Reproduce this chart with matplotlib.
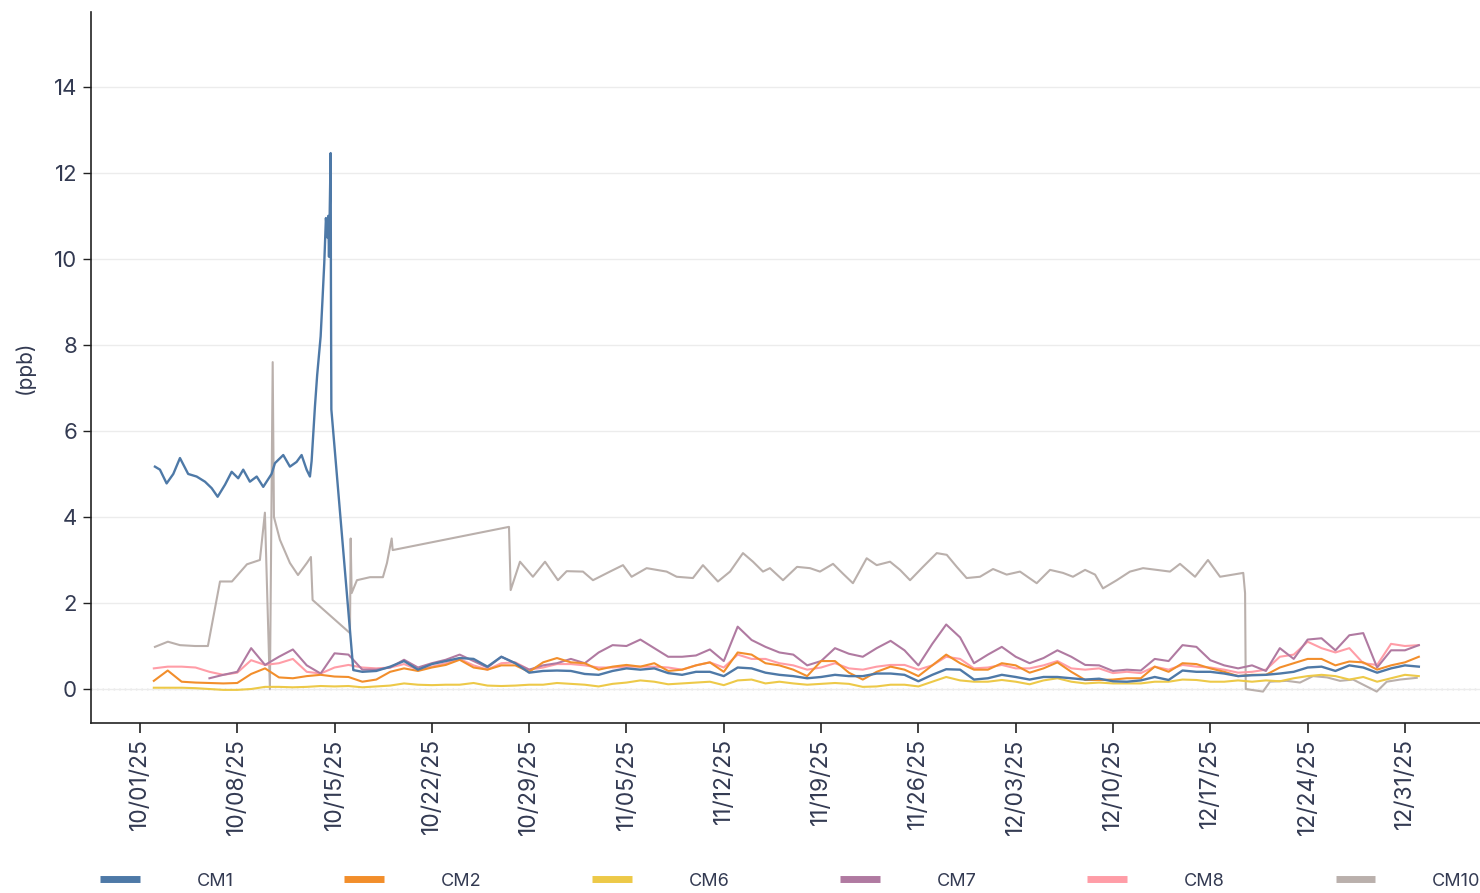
import numpy as np
import pandas as pd
import matplotlib
matplotlib.use("Agg")
import matplotlib.pyplot as plt
import matplotlib.dates as mdates
from matplotlib.lines import Line2D

plt.rcParams["font.family"] = ["Inter", "DejaVu Sans"]

# --- data (ppb), days counted from 2025-10-01 ---
start = pd.Timestamp("2025-10-01")
daily_day = list(range(1, 93))

cm1_early_day = [1.08, 1.44, 1.92, 2.40, 2.88, 3.47, 4.08, 4.68, 5.16, 5.59,
                 6.12, 6.60, 7.07, 7.43, 7.91, 8.40, 8.87, 9.47, 9.71, 10.31,
                 10.79, 11.27, 11.63, 11.99, 12.23, 12.35, 12.59, 12.75, 13.00, 13.14,
                 13.26, 13.38, 13.48, 13.55, 13.60, 13.72, 13.74, 13.77, 15.35]
cm1_early = [5.17, 5.10, 4.78, 5.00, 5.37, 5.00, 4.94, 4.82, 4.67, 4.47,
             4.75, 5.05, 4.90, 5.10, 4.82, 4.94, 4.70, 5.00, 5.25, 5.44,
             5.17, 5.28, 5.44, 5.10, 4.94, 5.30, 6.57, 7.30, 8.20, 9.10,
             9.90, 10.95, 10.50, 11.00, 10.05, 12.46, 9.40, 6.50, 0.44]
cm1_late = [0.40, 0.42, 0.52, 0.65, 0.45, 0.58, 0.65, 0.72, 0.70, 0.52, 0.75, 0.60, 0.38, 0.42, 0.43,
            0.42, 0.35, 0.33, 0.42, 0.48, 0.45, 0.48, 0.37, 0.33, 0.40, 0.40, 0.30, 0.50, 0.48, 0.38,
            0.33, 0.30, 0.25, 0.28, 0.33, 0.30, 0.30, 0.36, 0.36, 0.33, 0.18, 0.33, 0.46, 0.45, 0.22,
            0.25, 0.33, 0.28, 0.22, 0.28, 0.28, 0.25, 0.22, 0.24, 0.18, 0.17, 0.20, 0.28, 0.21, 0.43,
            0.40, 0.40, 0.36, 0.30, 0.32, 0.33, 0.36, 0.40, 0.50, 0.52, 0.42, 0.55, 0.50, 0.38, 0.48,
            0.55, 0.52]

cm2 = [0.19, 0.43, 0.17, 0.15, 0.14, 0.13, 0.14, 0.35, 0.48, 0.27, 0.25, 0.30, 0.33, 0.29, 0.28,
       0.17, 0.22, 0.40, 0.48, 0.42, 0.50, 0.56, 0.68, 0.50, 0.45, 0.55, 0.55, 0.40, 0.62, 0.72,
       0.62, 0.60, 0.45, 0.52, 0.56, 0.52, 0.60, 0.42, 0.45, 0.55, 0.62, 0.40, 0.85, 0.80, 0.60,
       0.55, 0.45, 0.30, 0.65, 0.65, 0.38, 0.22, 0.40, 0.52, 0.45, 0.30, 0.55, 0.80, 0.60, 0.45,
       0.45, 0.60, 0.55, 0.38, 0.48, 0.62, 0.40, 0.21, 0.21, 0.22, 0.25, 0.25, 0.52, 0.40, 0.60,
       0.58, 0.48, 0.40, 0.30, 0.33, 0.33, 0.50, 0.60, 0.70, 0.70, 0.55, 0.64, 0.62, 0.45, 0.55,
       0.62, 0.75]

cm6 = [0.03, 0.03, 0.03, 0.02, 0.00, -0.02, -0.02, 0.00, 0.05, 0.05, 0.04, 0.05, 0.07, 0.06, 0.07,
       0.04, 0.06, 0.08, 0.13, 0.10, 0.09, 0.10, 0.10, 0.14, 0.08, 0.07, 0.08, 0.10, 0.10, 0.14,
       0.12, 0.10, 0.06, 0.12, 0.15, 0.20, 0.17, 0.11, 0.13, 0.15, 0.17, 0.09, 0.20, 0.22, 0.13,
       0.17, 0.13, 0.10, 0.12, 0.14, 0.12, 0.05, 0.06, 0.10, 0.10, 0.06, 0.17, 0.28, 0.20, 0.17,
       0.17, 0.21, 0.17, 0.11, 0.20, 0.25, 0.17, 0.13, 0.15, 0.13, 0.13, 0.13, 0.17, 0.17, 0.22,
       0.21, 0.17, 0.17, 0.20, 0.17, 0.20, 0.18, 0.25, 0.30, 0.33, 0.30, 0.22, 0.28, 0.17, 0.25,
       0.33, 0.30]

cm7 = [np.nan, np.nan, np.nan, np.nan, 0.25, 0.33, 0.40, 0.95, 0.56, 0.75, 0.92, 0.55, 0.36, 0.83, 0.80,
       0.45, 0.45, 0.50, 0.68, 0.50, 0.60, 0.68, 0.80, 0.65, 0.50, 0.75, 0.60, 0.45, 0.55, 0.60,
       0.70, 0.60, 0.85, 1.02, 1.00, 1.15, 0.95, 0.75, 0.75, 0.78, 0.92, 0.65, 1.45, 1.14, 0.98,
       0.85, 0.80, 0.55, 0.65, 0.95, 0.82, 0.75, 0.95, 1.12, 0.90, 0.55, 1.05, 1.50, 1.20, 0.60,
       0.80, 0.98, 0.75, 0.60, 0.72, 0.90, 0.75, 0.56, 0.55, 0.42, 0.45, 0.43, 0.70, 0.65, 1.02,
       0.98, 0.67, 0.55, 0.48, 0.55, 0.42, 0.95, 0.70, 1.15, 1.18, 0.90, 1.25, 1.30, 0.50, 0.90,
       0.90, 1.02]

cm8 = [0.48, 0.52, 0.52, 0.50, 0.40, 0.33, 0.38, 0.67, 0.56, 0.60, 0.70, 0.40, 0.36, 0.50, 0.56,
       0.50, 0.48, 0.50, 0.58, 0.45, 0.52, 0.60, 0.70, 0.55, 0.45, 0.60, 0.62, 0.45, 0.50, 0.58,
       0.58, 0.55, 0.50, 0.50, 0.52, 0.52, 0.52, 0.50, 0.45, 0.55, 0.62, 0.50, 0.80, 0.70, 0.70,
       0.60, 0.55, 0.45, 0.50, 0.60, 0.48, 0.45, 0.52, 0.56, 0.56, 0.45, 0.55, 0.75, 0.70, 0.48,
       0.50, 0.56, 0.48, 0.48, 0.55, 0.65, 0.48, 0.45, 0.48, 0.37, 0.40, 0.37, 0.52, 0.45, 0.56,
       0.52, 0.50, 0.45, 0.38, 0.40, 0.45, 0.75, 0.80, 1.10, 0.95, 0.85, 0.95, 0.60, 0.56, 1.05,
       1.00, 1.02]

cm10_day = [1.08, 2.01, 2.88, 3.96, 4.89, 5.76, 6.62, 7.70, 8.63, 8.99,
            9.35, 9.55, 9.64, 10.07, 10.79, 11.37, 12.01, 12.30, 12.42, 15.11,
            15.16, 15.23, 15.61, 16.55, 17.48, 17.77, 18.11, 18.18, 26.55, 26.67,
            27.34, 28.27, 29.14, 30.07, 30.70, 31.87, 32.59, 33.81, 34.75, 35.37,
            36.45, 37.89, 38.61, 39.78, 40.50, 41.58, 42.45, 43.38, 44.10, 44.82,
            45.32, 46.26, 47.27, 48.20, 48.92, 49.86, 50.58, 51.29, 52.28, 53.00,
            53.96, 54.68, 55.40, 56.33, 57.32, 58.04, 58.76, 59.47, 60.43, 61.37,
            62.35, 63.31, 64.51, 65.47, 66.40, 67.12, 67.99, 68.71, 69.28, 70.27,
            71.22, 72.16, 73.14, 74.10, 74.82, 75.90, 76.83, 77.70, 78.63, 79.37,
            79.50, 79.55, 80.79, 81.29, 82.50, 83.45, 84.39, 85.40, 86.33, 87.27,
            88.49, 88.97, 89.69, 90.65, 91.85]
cm10 = [0.98, 1.10, 1.02, 1.00, 1.00, 2.50, 2.50, 2.90, 3.00, 4.10,
        0.00, 7.60, 4.00, 3.47, 2.93, 2.65, 2.93, 3.07, 2.07, 1.30,
        3.50, 2.23, 2.53, 2.60, 2.60, 2.93, 3.50, 3.23, 3.77, 2.30,
        2.96, 2.61, 2.96, 2.53, 2.74, 2.73, 2.53, 2.73, 2.88, 2.61,
        2.81, 2.73, 2.61, 2.58, 2.88, 2.50, 2.73, 3.16, 2.96, 2.73,
        2.81, 2.53, 2.84, 2.81, 2.73, 2.91, 2.68, 2.46, 3.04, 2.88,
        2.96, 2.77, 2.53, 2.84, 3.16, 3.12, 2.84, 2.58, 2.61, 2.79,
        2.66, 2.73, 2.46, 2.77, 2.70, 2.61, 2.77, 2.66, 2.34, 2.53,
        2.73, 2.81, 2.77, 2.73, 2.91, 2.61, 3.00, 2.61, 2.66, 2.70,
        2.23, 0.00, -0.06, 0.17, 0.19, 0.15, 0.30, 0.27, 0.19, 0.22,
        0.02, -0.06, 0.17, 0.22, 0.26]

names = ["CM1", "CM2", "CM6", "CM7", "CM8", "CM10"]
colors = ["#4e79a7", "#f28e2b", "#edc948", "#b07aa1", "#ff9da7", "#bab0ac"]
text_color = "#333a52"


def to_dates(days):
    return start + pd.to_timedelta(np.asarray(days, dtype=float), unit="D")


series = {
    "CM1": (cm1_early_day + list(range(16, 93)), cm1_early + cm1_late),
    "CM2": (daily_day, cm2),
    "CM6": (daily_day, cm6),
    "CM7": (daily_day, cm7),
    "CM8": (daily_day, cm8),
    "CM10": (cm10_day, cm10),
}

fig = plt.figure(figsize=(14.8, 8.93), dpi=100)
ax = fig.add_axes([91 / 1480, 1 - 723 / 893, 1 - 91 / 1480, (723 - 12) / 893])

# draw last series first so CM1 sits on top
for name, color in reversed(list(zip(names, colors))):
    d, v = series[name]
    d = np.asarray(d, dtype=float)
    v = np.asarray(v, dtype=float)
    ok = np.isfinite(v)
    lw = 1.7 if name == "CM1" else 1.5
    ax.plot(to_dates(d[ok]), v[ok], color=color, lw=lw, solid_joinstyle="round")

ax.axhline(0, color="#b5b5b5", lw=1, ls=(0, (1, 3)), zorder=0)

ax.set_ylim(-0.79, 15.74)
ax.set_xlim(start - pd.Timedelta(days=3.52), start + pd.Timedelta(days=96.4))
ax.set_yticks(range(0, 15, 2))
ax.yaxis.grid(True, color="#ececec", lw=1)
ax.set_axisbelow(True)

ticks = pd.date_range("2025-10-01", "2025-12-31", freq="7D")
ax.set_xticks(ticks)
ax.xaxis.set_major_formatter(mdates.DateFormatter("%m/%d/%y"))
for lab in ax.get_xticklabels():
    lab.set_rotation(90)

ax.tick_params(axis="y", labelsize=16, colors=text_color, length=6, width=1, pad=4)
ax.tick_params(axis="x", labelsize=16.5, colors=text_color, length=7, width=1.2, pad=4)
ax.tick_params(axis="both", color="#222222")
ax.set_ylabel("(ppb)", fontsize=15, color=text_color, labelpad=14)

for s in ["top", "right"]:
    ax.spines[s].set_visible(False)
for s in ["left", "bottom"]:
    ax.spines[s].set_color("#222222")
    ax.spines[s].set_linewidth(1.2)

handles = [Line2D([], [], color=c, lw=5, solid_capstyle="butt") for c in colors]
fig.legend(handles, names, loc="center left", bbox_to_anchor=(100 / 1480, 0.0134),
           ncol=6, frameon=False, fontsize=13, handlelength=2.2, handletextpad=3.15,
           columnspacing=6.13, borderpad=0, borderaxespad=0, labelcolor=text_color)

fig.savefig("out.png", dpi=100)
